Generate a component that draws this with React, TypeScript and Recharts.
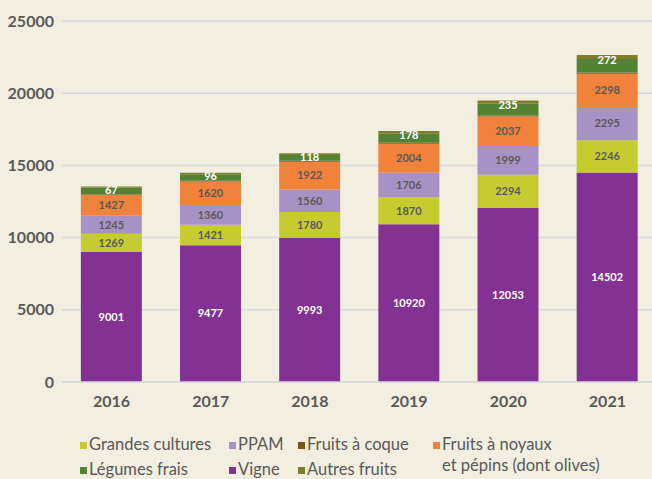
import React from 'react';
import { BarChart, Bar, XAxis, YAxis, CartesianGrid, LabelList } from 'recharts';

const years = ['2016', '2017', '2018', '2019', '2020', '2021'];
const vigne = [9001, 9477, 9993, 10920, 12053, 14502];
const grandesCultures = [1269, 1421, 1780, 1870, 2294, 2246];
const ppam = [1245, 1360, 1560, 1706, 1999, 2295];
const fruitsNoyaux = [1427, 1620, 1922, 2004, 2037, 2298];
const fruitsCoque = [50, 55, 60, 70, 80, 100];
const legumesFrais = [480, 460, 400, 630, 800, 930];
const autresFruits = [67, 96, 118, 178, 235, 272];
const yTicks = [0, 5000, 10000, 15000, 20000, 25000];

const data = years.map((year, i) => ({
  year,
  vigne: vigne[i],
  grandesCultures: grandesCultures[i],
  ppam: ppam[i],
  fruitsNoyaux: fruitsNoyaux[i],
  fruitsCoque: fruitsCoque[i],
  legumesFrais: legumesFrais[i],
  autresFruits: autresFruits[i],
}));

const FONT = 'Lato, "Open Sans", sans-serif';
const GRAY = '#595959';

const colors = {
  vigne: '#833293',
  grandesCultures: '#C6CC2F',
  ppam: '#A891C4',
  fruitsNoyaux: '#F0823B',
  fruitsCoque: '#7A561B',
  legumesFrais: '#548235',
  autresFruits: '#7F7C2D',
};

const labelStyle = (fill: string) => ({ fill, fontSize: 11, fontWeight: 700, fontFamily: FONT });

const Swatch = ({ color }: { color: string }) => (
  <span style={{ display: 'inline-block', width: 7, height: 7, background: color, marginRight: 2, marginBottom: 1 }} />
);

// legend laid out like the original: 4 columns, 2 rows
const legendItems = [
  { label: 'Grandes cultures', color: colors.grandesCultures, x: 80, y: 434 },
  { label: 'PPAM', color: colors.ppam, x: 229, y: 434 },
  { label: 'Fruits à coque', color: colors.fruitsCoque, x: 298, y: 434 },
  { label: 'Fruits à noyaux', color: colors.fruitsNoyaux, x: 433, y: 434 },
  { label: 'Légumes frais', color: colors.legumesFrais, x: 80, y: 459 },
  { label: 'Vigne', color: colors.vigne, x: 229, y: 459 },
  { label: 'Autres fruits', color: colors.autresFruits, x: 298, y: 459 },
];

export default function App() {
  return (
    <div style={{ position: 'absolute', left: 0, top: 0, width: 652, height: 479, overflow: 'hidden', background: '#F2EFE0', fontFamily: FONT }}>
      <BarChart
        width={657}
        height={479}
        data={data}
        margin={{ top: 21, right: 0, left: 0, bottom: 67 }}
        barCategoryGap="19%"
      >
        <CartesianGrid vertical={false} stroke="#D9DAE0" strokeWidth={1.5} />
        <XAxis
          dataKey="year"
          axisLine={{ stroke: '#D9DAE0', strokeWidth: 1.5 }}
          tickLine={false}
          tickMargin={8}
          height={30}
          tick={{ fill: GRAY, fontSize: 16, fontWeight: 700, fontFamily: FONT }}
        />
        <YAxis
          domain={[0, 25000]}
          ticks={yTicks}
          axisLine={false}
          tickLine={false}
          width={62}
          interval={0}
          tick={{ fill: GRAY, fontSize: 16, fontWeight: 700, fontFamily: FONT }}
        />
        <Bar dataKey="vigne" stackId="a" fill={colors.vigne} isAnimationActive={false}>
          <LabelList dataKey="vigne" position="center" style={labelStyle('#FFFFFF')} />
        </Bar>
        <Bar dataKey="grandesCultures" stackId="a" fill={colors.grandesCultures} isAnimationActive={false}>
          <LabelList dataKey="grandesCultures" position="center" style={labelStyle(GRAY)} />
        </Bar>
        <Bar dataKey="ppam" stackId="a" fill={colors.ppam} isAnimationActive={false}>
          <LabelList dataKey="ppam" position="center" style={labelStyle(GRAY)} />
        </Bar>
        <Bar dataKey="fruitsNoyaux" stackId="a" fill={colors.fruitsNoyaux} isAnimationActive={false}>
          <LabelList dataKey="fruitsNoyaux" position="center" style={labelStyle(GRAY)} />
        </Bar>
        <Bar dataKey="fruitsCoque" stackId="a" fill={colors.fruitsCoque} isAnimationActive={false} />
        <Bar dataKey="legumesFrais" stackId="a" fill={colors.legumesFrais} isAnimationActive={false} />
        <Bar dataKey="autresFruits" stackId="a" fill={colors.autresFruits} isAnimationActive={false}>
          <LabelList dataKey="autresFruits" position="center" offset={0} dy={3} style={labelStyle('#FFFFFF')} />
        </Bar>
      </BarChart>
      {legendItems.map((item) => (
        <div
          key={item.label}
          style={{ position: 'absolute', left: item.x, top: item.y, fontSize: 16.5, color: GRAY, lineHeight: '20px', whiteSpace: 'nowrap' }}
        >
          <Swatch color={item.color} />
          {item.label}
        </div>
      ))}
      <div style={{ position: 'absolute', left: 442, top: 455, fontSize: 16.5, color: GRAY, lineHeight: '20px', whiteSpace: 'nowrap' }}>
        et pépins (dont olives)
      </div>
    </div>
  );
}
